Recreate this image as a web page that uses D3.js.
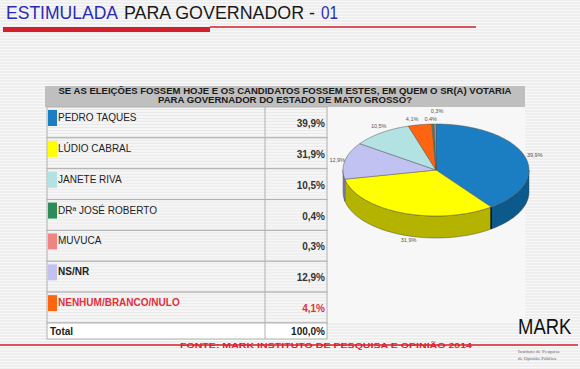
<!DOCTYPE html>
<html>
<head>
<meta charset="utf-8">
<script src="https://cdn.jsdelivr.net/npm/d3@7"></script>
<style>
  body { margin: 0; padding: 0; background: #f1f1f1; }
  svg { display: block; font-family: "Liberation Sans", Arial, sans-serif; }
</style>
</head>
<body>
<div id="chart"></div>
<script>
// data
var candidates = ["PEDRO TAQUES", "LÚDIO CABRAL", "JANETE RIVA", "DRª JOSÉ ROBERTO", "MUVUCA", "NS/NR", "NENHUM/BRANCO/NULO"];
var values = [39.9, 31.9, 10.5, 0.4, 0.3, 12.9, 4.1];
var colors = ["#1b7ec2", "#ffff00", "#b2e2e2", "#2e8b5a", "#f08484", "#c2c2f2", "#ff6410"];
var sideColors = ["#0c5a8c", "#b4b400", "#7fb0b0", "#1e6040", "#b05a5a", "#8888b8", "#c04808"];
// order of the slices in the pie, clockwise from the top
var pieOrder = [0, 1, 5, 2, 6, 3, 4];
var total = 100.0;

var width = 580, height = 369;
var fmt = d3.formatLocale({decimal: ",", thousands: ".", grouping: [3], currency: ["", ""]}).format(".1f");

var svg = d3.select("#chart").append("svg")
  .attr("width", width)
  .attr("height", height);

// striped background like the scanned slide
var defs = svg.append("defs");
var pat = defs.append("pattern").attr("id", "stripes")
  .attr("width", 6).attr("height", 3).attr("patternUnits", "userSpaceOnUse");
pat.append("rect").attr("width", 6).attr("height", 3).attr("fill", "#eeeeee");
pat.append("rect").attr("y", 1).attr("width", 6).attr("height", 1).attr("fill", "#f9f9f9");
var pat2 = defs.append("pattern").attr("id", "cells")
  .attr("width", 6).attr("height", 3).attr("patternUnits", "userSpaceOnUse");
pat2.append("rect").attr("width", 6).attr("height", 3).attr("fill", "#f6f6f6");
pat2.append("rect").attr("y", 2).attr("width", 6).attr("height", 1).attr("fill", "#e9e9e9");

svg.append("rect").attr("width", width).attr("height", height).attr("fill", "url(#stripes)");

// ---- title (three pieces, two colours) ----
var titleParts = [
  {t: "ESTIMULADA", x: 6, w: 112, c: "#2b2bb4"},
  {t: "PARA GOVERNADOR -", x: 124, w: 191, c: "#1a1a1a"},
  {t: "01", x: 321, w: 17, c: "#2b2bb4"}
];
svg.selectAll(".title").data(titleParts).enter().append("text")
  .attr("class", "title")
  .attr("x", function(d) { return d.x; }).attr("y", 19)
  .attr("font-size", 18).attr("fill", function(d) { return d.c; })
  .attr("textLength", function(d) { return d.w; }).attr("lengthAdjust", "spacingAndGlyphs")
  .text(function(d) { return d.t; });

svg.append("rect").attr("x", 3).attr("y", 27).attr("width", 207).attr("height", 5).attr("fill", "#d4202c");
svg.append("line").attr("x1", 210).attr("x2", 476).attr("y1", 27).attr("y2", 27)
  .attr("stroke", "#d4202c").attr("stroke-width", 1.5);

// ---- question header ----
svg.append("rect").attr("x", 45).attr("y", 86).attr("width", 480).attr("height", 21).attr("fill", "#bfbfbf");
svg.append("text").attr("x", 285).attr("y", 94).attr("text-anchor", "middle")
  .attr("font-size", 8.5).attr("font-weight", "bold").attr("fill", "#1a1a1a")
  .attr("textLength", 453).attr("lengthAdjust", "spacingAndGlyphs")
  .text("SE AS ELEIÇÕES FOSSEM HOJE E OS CANDIDATOS FOSSEM ESTES, EM QUEM O SR(A) VOTARIA");
svg.append("text").attr("x", 285).attr("y", 103).attr("text-anchor", "middle")
  .attr("font-size", 8.5).attr("font-weight", "bold").attr("fill", "#1a1a1a")
  .attr("textLength", 254).attr("lengthAdjust", "spacingAndGlyphs")
  .text("PARA GOVERNADOR DO ESTADO DE MATO GROSSO?");

// ---- table ----
var colName = 47, colVal = 265, colEnd = 327;
var y = d3.scaleBand().domain(d3.range(candidates.length)).range([107, 323]);

// pie panel background
svg.append("rect").attr("x", colEnd).attr("y", 107).attr("width", 198).attr("height", 215).attr("fill", "#f7f7f7");

var rows = svg.append("g").selectAll("g").data(candidates).enter().append("g")
  .attr("transform", function(d, i) { return "translate(0," + y(i) + ")"; });

rows.append("rect").attr("x", colName).attr("width", colEnd - colName).attr("height", y.bandwidth())
  .attr("fill", "url(#cells)").attr("stroke", "#b0b0b0").attr("stroke-width", 1);
rows.append("line").attr("x1", colVal).attr("x2", colVal).attr("y1", 0).attr("y2", y.bandwidth())
  .attr("stroke", "#b0b0b0");
rows.append("rect").attr("x", 48).attr("y", 3).attr("width", 9).attr("height", 16)
  .attr("fill", function(d, i) { return colors[i]; });
rows.append("text").attr("x", 58).attr("y", 14)
  .attr("font-size", 10)
  .attr("font-weight", function(d) { return (d == "NS/NR" || d == "NENHUM/BRANCO/NULO") ? "bold" : "normal"; })
  .attr("fill", function(d) { return d == "NENHUM/BRANCO/NULO" ? "#e0303a" : "#222"; })
  .text(function(d) { return d; });
rows.append("text").attr("x", 325).attr("y", 20).attr("text-anchor", "end")
  .attr("font-size", 10).attr("font-weight", "bold")
  .attr("fill", function(d) { return d == "NENHUM/BRANCO/NULO" ? "#e0303a" : "#333"; })
  .text(function(d, i) { return fmt(values[i]) + "%"; });

// total row
var totTop = y.range()[1];
svg.append("rect").attr("x", colName).attr("y", totTop).attr("width", colEnd - colName).attr("height", 16)
  .attr("fill", "#ffffff").attr("stroke", "#b0b0b0");
svg.append("line").attr("x1", colVal).attr("x2", colVal).attr("y1", totTop).attr("y2", totTop + 16).attr("stroke", "#b0b0b0");
svg.append("text").attr("x", 50).attr("y", totTop + 12).attr("font-size", 10).attr("font-weight", "bold")
  .attr("fill", "#222").text("Total");
svg.append("text").attr("x", 325).attr("y", totTop + 12).attr("text-anchor", "end")
  .attr("font-size", 10).attr("font-weight", "bold").attr("fill", "#222").text(fmt(total) + "%");

// ---- 3D pie ----
var cx = 436, cy = 170, rx = 93, ry = 46, depth = 22;
var pieData = d3.pie().sort(null).value(function(d) { return values[d]; })(pieOrder);

function pt(a, r, dy) {
  return [cx + Math.sin(a) * rx * r, cy - Math.cos(a) * ry * r + (dy || 0)];
}
function arcPts(a0, a1, dy) {
  var n = Math.max(2, Math.ceil(Math.abs(a1 - a0) / 0.03));
  return d3.range(n + 1).map(function(k) { return pt(a0 + (a1 - a0) * k / n, 1, dy); });
}
var line = d3.line();

var pieG = svg.append("g");
// sides (only the front half, angles between PI/2 and 3PI/2)
pieData.forEach(function(p) {
  var s = Math.max(p.startAngle, Math.PI / 2), e = Math.min(p.endAngle, 3 * Math.PI / 2);
  if (e <= s) return;
  var pts = arcPts(s, e, 0).concat(arcPts(e, s, depth));
  pieG.append("path").attr("d", line(pts) + "Z")
    .attr("fill", sideColors[p.data]).attr("stroke", "#333").attr("stroke-width", 0.4);
});
// dark edge where blue meets yellow on the front wall
var edge = pt(pieData[1].startAngle, 1, 0);
pieG.append("line").attr("x1", edge[0]).attr("x2", edge[0]).attr("y1", edge[1]).attr("y2", edge[1] + depth)
  .attr("stroke", "#111").attr("stroke-width", 1.5);
// top faces
pieData.forEach(function(p) {
  var pts = [[cx, cy]].concat(arcPts(p.startAngle, p.endAngle, 0));
  pieG.append("path").attr("d", line(pts) + "Z")
    .attr("fill", colors[p.data]).attr("stroke", "#555").attr("stroke-width", 0.5);
});

// pie labels (small shifts per slice so they sit where the original has them)
var labelNudge = {0: [-8, 1], 1: [10, 7], 5: [11, 0], 2: [12, -2], 3: [-2, 0], 4: [2, -7], 6: [-6, 0]};
pieData.forEach(function(p) {
  var mid = (p.startAngle + p.endAngle) / 2;
  var q = pt(mid, 1.12, Math.cos(mid) < 0 ? depth * 0.7 : 0);
  var n = labelNudge[p.data] || [0, 0];
  svg.append("text").attr("x", q[0] + n[0]).attr("y", q[1] + n[1] + 2)
    .attr("text-anchor", Math.sin(mid) > 0.5 ? "start" : (Math.sin(mid) < -0.5 ? "end" : "middle"))
    .attr("font-size", 5.5).attr("fill", "#555")
    .text(fmt(values[p.data]) + "%");
});

// ---- footer ----
svg.append("line").attr("x1", 0).attr("x2", 578).attr("y1", 345).attr("y2", 345)
  .attr("stroke", "#d4202c").attr("stroke-width", 1.5);
svg.append("text").attr("x", 180).attr("y", 347.5)
  .attr("font-size", 7).attr("font-weight", "bold").attr("fill", "#e0202a")
  .attr("textLength", 292).attr("lengthAdjust", "spacingAndGlyphs")
  .text("FONTE: MARK INSTITUTO DE PESQUISA E OPINIÃO 2014");

svg.append("text").attr("transform", "translate(518,334) scale(0.84,1)")
  .attr("font-size", 22).attr("fill", "#111")
  .text("MARK");
svg.append("text").attr("x", 518).attr("y", 353).attr("font-family", "'Liberation Serif', serif")
  .attr("font-size", 5).attr("fill", "#666").text("Instituto de Pesquisa");
svg.append("text").attr("x", 518).attr("y", 360).attr("font-family", "'Liberation Serif', serif")
  .attr("font-size", 5).attr("fill", "#666").text("de Opinião Pública");
</script>
</body>
</html>
